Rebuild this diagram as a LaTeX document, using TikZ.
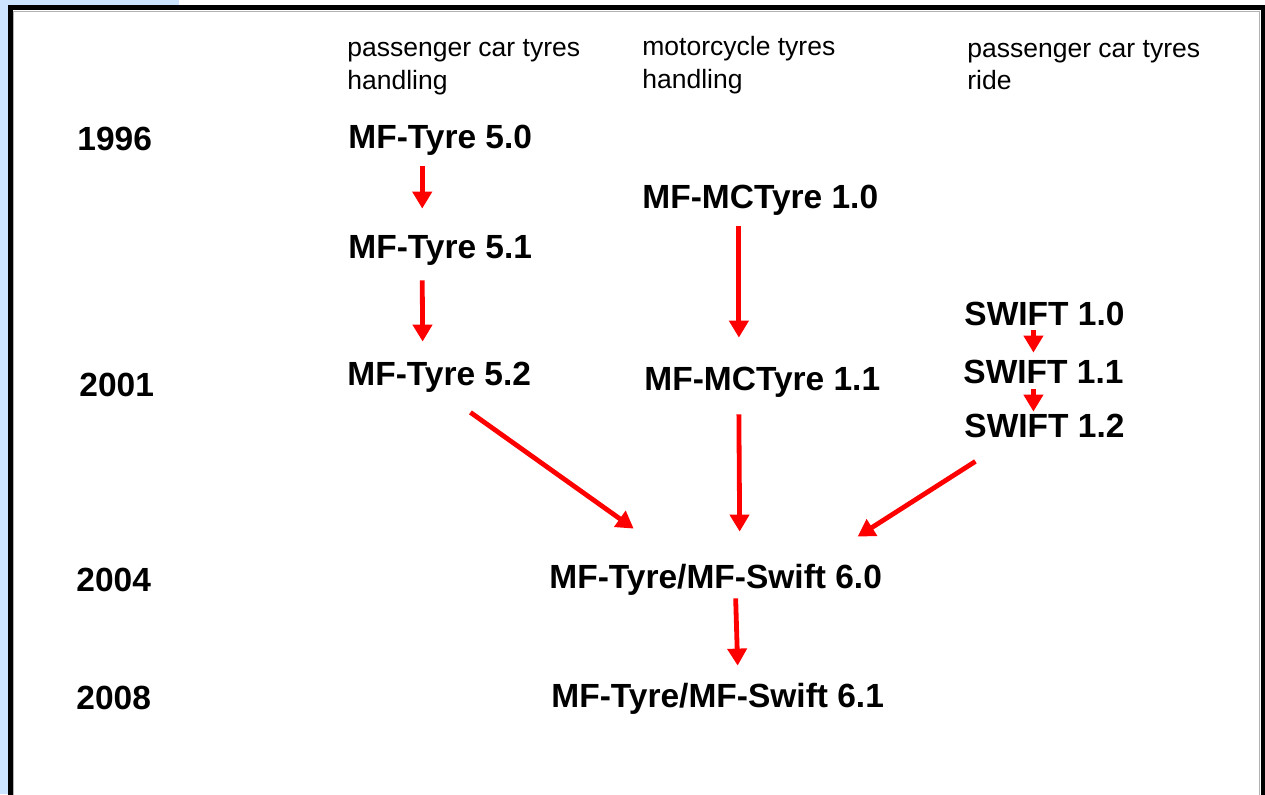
\documentclass[tikz,border=0pt]{standalone}
\usepackage{fontspec}
\setmainfont{Liberation Sans}
\usetikzlibrary{arrows.meta}
\definecolor{slideblue}{RGB}{204,228,255}

\begin{document}
\begin{tikzpicture}[x=0.5pt,y=-0.5pt]
		\tikzset{
			version/.style={anchor=base west,inner sep=0pt,text height=12pt,text depth=3.5pt,font=\fontsize{16.75}{19}\selectfont\bfseries},
			year/.style={version},
			heading/.style={anchor=north west,inner sep=0pt,align=left,font=\fontsize{13.25}{16.25}\selectfont},
			evolve/.style={red,line width=2.4pt,-{Triangle[length=8.5pt,width=9.5pt]}}
		}
		
		\useasboundingbox (0,0) rectangle (1265,794);
		\clip (0,0) rectangle (1265,794);
		\fill[white] (0,0) rectangle (1265,794);
		\fill[slideblue] (0,0) rectangle (179,5);
		\fill[slideblue] (0,0) rectangle (8,794);
		\draw[black!30,line width=0.5pt] (13.5,11) rectangle (1259.5,820);
		\draw[line width=2.5pt] (10,7.5) rectangle (1263,820);
		
		% column headings
		\node[heading] (hpch) at (347,39) {passenger car tyres\\handling};
		\node[heading] (hmch) at (642,36) {motorcycle tyres\\handling};
		\node[heading] (hpcr) at (967,39.5) {passenger car tyres\\ride};
		
		% years
		\node[year] (y96) at (77,150) {1996};
		\node[year] (y01) at (79,396) {2001};
		\node[year] (y04) at (76,591) {2004};
		\node[year] (y08) at (76,709) {2008};
		
		% model versions
		\node[version] (mf50) at (348,148) {MF-Tyre 5.0};
		\node[version] (mf51) at (348,258) {MF-Tyre 5.1};
		\node[version] (mf52) at (347,385) {MF-Tyre 5.2};
		\node[version] (mc10) at (642,208) {MF-MCTyre 1.0};
		\node[version] (mc11) at (644,390) {MF-MCTyre 1.1};
		\node[version] (sw10) at (964,325) {SWIFT 1.0};
		\node[version] (sw11) at (963,383) {SWIFT 1.1};
		\node[version] (sw12) at (964,437) {SWIFT 1.2};
		\node[version] (ms60) at (549,588) {MF-Tyre/MF-Swift 6.0};
		\node[version] (ms61) at (551,707) {MF-Tyre/MF-Swift 6.1};
		
		\draw[evolve] ([xshift=-9pt,yshift=-5.5pt]mf50.south) -- ([xshift=-9pt,yshift=12.5pt]mf51.north);
		\draw[evolve] ([xshift=-9pt,yshift=-7.5pt]mf51.south) -- ([xshift=-8.3pt,yshift=9.5pt]mf52.north);
		\draw[evolve] ([xshift=-10.7pt,yshift=-5.5pt]mc10.south) -- ([xshift=-11.7pt,yshift=14pt]mc11.north);
		\draw[evolve] ([xshift=-5.5pt,yshift=1pt]sw10.south) -- ([xshift=-5pt,yshift=3pt]sw11.north);
		\draw[evolve] ([xshift=-5pt,yshift=0.5pt]sw11.south) -- ([xshift=-5.5pt,yshift=0.5pt]sw12.north);
		
		\draw[evolve] ([xshift=15.6pt,yshift=-10pt]mf52.south) -- ([xshift=-41pt,yshift=17.5pt]ms60.north);
		\draw[evolve] ([xshift=-11.7pt,yshift=-8.5pt]mc11.south) -- ([xshift=12pt,yshift=16pt]ms60.north);
		\draw[evolve] ([xshift=-34.5pt,yshift=-8.5pt]sw12.south) -- ([xshift=71pt,yshift=13.5pt]ms60.north);
		\draw[evolve] ([xshift=10pt,yshift=-1.5pt]ms60.south) -- ([xshift=10pt,yshift=8.5pt]ms61.north);
		
	\end{tikzpicture}
\end{document}
